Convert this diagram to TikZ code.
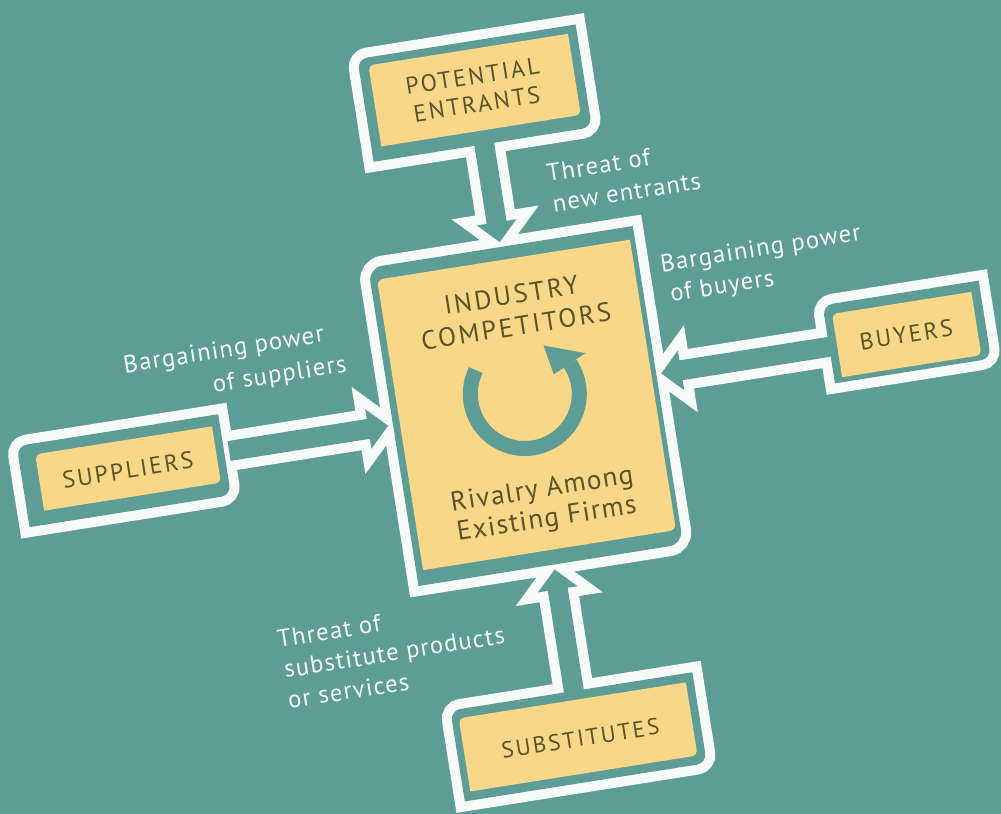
\documentclass[tikz,border=0pt]{standalone}
\usepackage{fontspec}
\setmainfont{PT Sans}
\newfontfamily\boxfont[LetterSpace=10]{PT Sans}
\newfontfamily\midfont[LetterSpace=5]{PT Sans}
\newfontfamily\lblfont[LetterSpace=5]{PT Sans}
\definecolor{bg}{RGB}{94,157,149}
\definecolor{yel}{RGB}{248,216,136}
\definecolor{txt}{RGB}{88,84,40}
\definecolor{wht}{RGB}{246,251,249}
% box with rounded top-left and bottom-right corners (y axis points down)
\newcommand\lbox[5]{({#1},{#2+#5}) arc[start angle=180,end angle=270,radius=#5] -- ({#3},{#2}) -- ({#3},{#4-#5}) arc[start angle=0,end angle=90,radius=#5] -- ({#1},{#4}) -- cycle}
\newcommand\pCen{\lbox{-134}{-163}{134}{159}{14}}
\newcommand\pPE{\lbox{-112}{-371}{109}{-267}{10}}
\newcommand\pSUP{\lbox{-509}{-42}{-305}{40}{10}}
\newcommand\pBUY{\lbox{309}{-55}{467}{24}{10}}
\newcommand\pSUB{\lbox{-122}{287}{123}{379}{10}}
\newcommand\aTop{(-10,-275) -- (-10,-188) -- (-20,-188) -- (0,-168) -- (20,-188) -- (10,-188) -- (10,-275) -- cycle}
\newcommand\aBot{(-7,295) -- (-7,184) -- (-17,184) -- (3,164) -- (23,184) -- (13,184) -- (13,295) -- cycle}
\newcommand\aLeft{(-300,-14) -- (-159,-14) -- (-159,-24) -- (-139,-4) -- (-159,16) -- (-159,6) -- (-300,6) -- cycle}
\newcommand\aRight{(315,-23) -- (159,-23) -- (159,-33) -- (139,-13) -- (159,7) -- (159,-3) -- (315,-3) -- cycle}
\begin{document}
\begin{tikzpicture}[x=0.02cm,y=-0.02cm,
  outl/.style={draw=wht,line width=0.4cm,line join=miter},
  infill/.style={fill=bg},
  ybox/.style={fill=yel},
  boxtxt/.style={text=txt,font=\boxfont\fontsize{13.5}{16}\selectfont,align=center,inner sep=0pt},
  bigtxt/.style={text=txt,font=\boxfont\fontsize{15}{18}\selectfont,align=center,inner sep=0pt},
  rivtxt/.style={text=txt,font=\midfont\fontsize{15.5}{17}\selectfont,align=center,inner sep=0pt},
  lbl/.style={text=wht,font=\lblfont\fontsize{14}{17}\selectfont,inner sep=0pt,anchor=base west}]
\useasboundingbox (0,0) rectangle (1001,814);
\fill[bg] (0,0) rectangle (1001,814);
\begin{scope}[shift={(526,408)},rotate=9,transform shape]
  % white outlines
  \path[outl] \pCen \pPE \pSUP \pBUY \pSUB \aTop \aBot \aLeft \aRight;
  % teal interiors
  \path[infill] \pCen; \path[infill] \pPE; \path[infill] \pSUP;
  \path[infill] \pBUY; \path[infill] \pSUB;
  \path[infill] \aTop; \path[infill] \aBot; \path[infill] \aLeft; \path[infill] \aRight;
  % yellow boxes
  \path[ybox] \lbox{-127}{-150}{129}{144}{6};
  \path[ybox] \lbox{-102}{-363}{100}{-281}{5};
  \path[ybox] \lbox{-492}{-31}{-313}{26}{5};
  \path[ybox] \lbox{317}{-45}{458}{19}{5};
  \path[ybox] \lbox{-115}{296}{115}{370}{5};
  % rivalry ring
  \begin{scope}[shift={(1,-14)}]
    \draw[bg,line width=0.3cm] (215:54.5) arc[start angle=215,end angle=-25,radius=54.5];
    \fill[bg] (-25:35) -- (-25:73) -- (-60:52) -- cycle;
  \end{scope}
  % box texts
  \node[boxtxt] (pe) at (-1,-322) {POTENTIAL\\ENTRANTS};
  \node[boxtxt] (sup) at (-403,-1) {SUPPLIERS};
  \node[boxtxt] (buy) at (387,-13) {BUYERS};
  \node[boxtxt,font=\boxfont\fontsize{13}{16}\selectfont] (sub) at (2,335) {SUBSTITUTES};
  \node[bigtxt] (ic) at (3,-98) {INDUSTRY\\COMPETITORS};
  \node[rivtxt] (riv) at (3,99) {Rivalry Among\\Existing Firms};
  % white labels
  \node[lbl] (l1) at (57,-220) {Threat of};
  \node[lbl] (l2) at (58,-189) {new entrants};
  \node[lbl] (l3) at (155,-113) {Bargaining power};
  \node[lbl] (l4) at (160,-82) {of buyers};
  \node[lbl] (l5) at (-391,-97) {Bargaining power};
  \node[lbl] (l6) at (-306,-64) {of suppliers};
  \node[lbl] (l7) at (-282,198) {Threat of};
  \node[lbl] (l8) at (-280,229) {substitute products};
  \node[lbl] (l9) at (-281,260) {or services};
\end{scope}
\end{tikzpicture}
\end{document}
